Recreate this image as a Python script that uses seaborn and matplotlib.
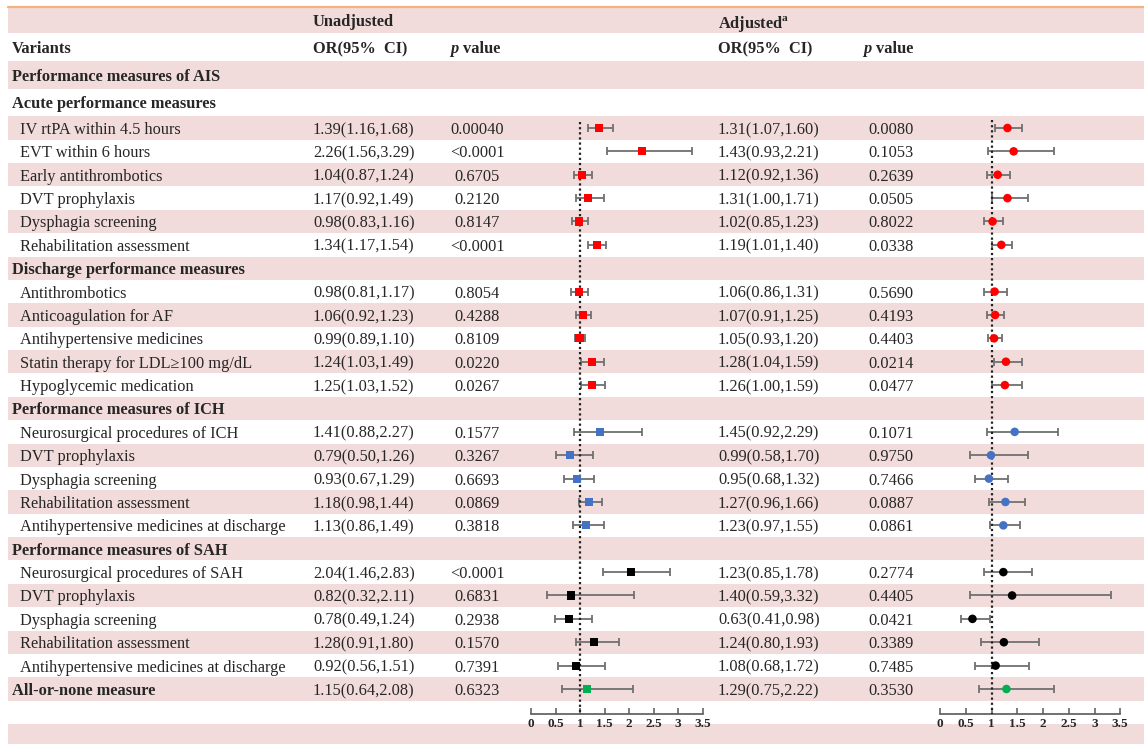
import numpy as np
import pandas as pd
import matplotlib
matplotlib.use("Agg")
import matplotlib.pyplot as plt
import seaborn as sns

# ---------------- data ----------------
row_labels = [
    "Performance measures of AIS",
    "Acute performance measures",
    "IV rtPA within 4.5 hours",
    "EVT within 6 hours",
    "Early antithrombotics",
    "DVT prophylaxis",
    "Dysphagia screening",
    "Rehabilitation assessment",
    "Discharge performance measures",
    "Antithrombotics",
    "Anticoagulation for AF",
    "Antihypertensive medicines",
    "Statin therapy for LDL\u2265100 mg/dL",
    "Hypoglycemic medication",
    "Performance measures of ICH",
    "Neurosurgical procedures of ICH",
    "DVT prophylaxis",
    "Dysphagia screening",
    "Rehabilitation assessment",
    "Antihypertensive medicines at discharge",
    "Performance measures of SAH",
    "Neurosurgical procedures of SAH",
    "DVT prophylaxis",
    "Dysphagia screening",
    "Rehabilitation assessment",
    "Antihypertensive medicines at discharge",
    "All-or-none measure",
]
row_bold = [True, True] + [False] * 6 + [True] + [False] * 5 + [True] + [False] * 5 \
    + [True] + [False] * 5 + [True]
row_group = [None, None] + ["AIS"] * 6 + [None] + ["AIS"] * 5 + [None] + ["ICH"] * 5 \
    + [None] + ["SAH"] * 5 + ["ALL"]

nan = np.nan
unadj_or = [nan, nan, 1.39, 2.26, 1.04, 1.17, 0.98, 1.34, nan, 0.98, 1.06, 0.99, 1.24, 1.25,
            nan, 1.41, 0.79, 0.93, 1.18, 1.13, nan, 2.04, 0.82, 0.78, 1.28, 0.92, 1.15]
unadj_lo = [nan, nan, 1.16, 1.56, 0.87, 0.92, 0.83, 1.17, nan, 0.81, 0.92, 0.89, 1.03, 1.03,
            nan, 0.88, 0.50, 0.67, 0.98, 0.86, nan, 1.46, 0.32, 0.49, 0.91, 0.56, 0.64]
unadj_hi = [nan, nan, 1.68, 3.29, 1.24, 1.49, 1.16, 1.54, nan, 1.17, 1.23, 1.10, 1.49, 1.52,
            nan, 2.27, 1.26, 1.29, 1.44, 1.49, nan, 2.83, 2.11, 1.24, 1.80, 1.51, 2.08]
unadj_p = ["", "", "0.00040", "<0.0001", "0.6705", "0.2120", "0.8147", "<0.0001", "",
           "0.8054", "0.4288", "0.8109", "0.0220", "0.0267", "", "0.1577", "0.3267",
           "0.6693", "0.0869", "0.3818", "", "<0.0001", "0.6831", "0.2938", "0.1570",
           "0.7391", "0.6323"]

adj_or = [nan, nan, 1.31, 1.43, 1.12, 1.31, 1.02, 1.19, nan, 1.06, 1.07, 1.05, 1.28, 1.26,
          nan, 1.45, 0.99, 0.95, 1.27, 1.23, nan, 1.23, 1.40, 0.63, 1.24, 1.08, 1.29]
adj_lo = [nan, nan, 1.07, 0.93, 0.92, 1.00, 0.85, 1.01, nan, 0.86, 0.91, 0.93, 1.04, 1.00,
          nan, 0.92, 0.58, 0.68, 0.96, 0.97, nan, 0.85, 0.59, 0.41, 0.80, 0.68, 0.75]
adj_hi = [nan, nan, 1.60, 2.21, 1.36, 1.71, 1.23, 1.40, nan, 1.31, 1.25, 1.20, 1.59, 1.59,
          nan, 2.29, 1.70, 1.32, 1.66, 1.55, nan, 1.78, 3.32, 0.98, 1.93, 1.72, 2.22]
adj_p = ["", "", "0.0080", "0.1053", "0.2639", "0.0505", "0.8022", "0.0338", "",
         "0.5690", "0.4193", "0.4403", "0.0214", "0.0477", "", "0.1071", "0.9750",
         "0.7466", "0.0887", "0.0861", "", "0.2774", "0.4405", "0.0421", "0.3389",
         "0.7485", "0.3530"]

x_ticks = [0, 0.5, 1, 1.5, 2, 2.5, 3, 3.5]
x_tick_labels = ["0", "0.5", "1", "1.5", "2", "2.5", "3", "3.5"]

group_colors = {"AIS": "#FF0000", "ICH": "#4472C4", "SAH": "#000000", "ALL": "#00B050"}

# ---------------- style ----------------
sns.set_theme(style="white")
plt.rcParams["font.family"] = ["Liberation Serif", "DejaVu Serif"]
plt.rcParams["mathtext.fontset"] = "custom"
plt.rcParams["mathtext.rm"] = "Liberation Serif"
plt.rcParams["mathtext.bf"] = "Liberation Serif:bold"

W, H = 1144, 744
fig = plt.figure(figsize=(W / 100, H / 100), dpi=100)

# Row layout (in pixel units): four taller header rows, then uniform table rows
top_edges = [8, 33, 61, 88.5, 116.3]
step = 23.375
edges = top_edges + [top_edges[-1] + step * k for k in range(1, 26)]
edges += [edges[-1] + 23.0, edges[-1] + 47.0]
centers = [(a + b) / 2 for a, b in zip(edges[:-1], edges[1:])]

bg = fig.add_axes([0, 0, 1, 1])
bg.set_xlim(0, W)
bg.set_ylim(H, 0)
bg.axis("off")

PINK = "#F2DCDB"
for i in range(len(edges) - 1):
    if i % 2 == 0:
        bg.fill_between([8, W], edges[i], edges[i + 1], color=PINK, lw=0, zorder=0)
bg.plot([8, W], [6.5, 6.5], color="#F4B183", lw=1.6, zorder=1)

FS = 11.8
X_LABEL_HEAD, X_LABEL_ITEM = 12, 20
X_OR_U, X_P_U = 313, 477
X_OR_A, X_P_A = 718, 868


def put(x, y, s, **kw):
    bg.text(x, y, s, fontsize=kw.pop("fontsize", FS), va="center_baseline", **kw)


# header rows
put(X_OR_U, centers[0], "Unadjusted", fontweight="bold")
put(X_OR_A, centers[0], r"Adjusted$^{\mathbf{a}}$", fontweight="bold")
put(X_LABEL_HEAD, centers[1], "Variants", fontweight="bold")
for x_or, x_p in [(X_OR_U, 450), (X_OR_A, 863)]:
    put(x_or, centers[1], "OR(95%  CI)", fontweight="bold")
    put(x_p, centers[1], "p", fontweight="bold", fontstyle="italic")
    put(x_p + 13, centers[1], "value", fontweight="bold")

# table body
ys = []
for k, lab in enumerate(row_labels):
    r = k + 2
    y = centers[r]
    ys.append(y)
    if row_bold[k]:
        put(X_LABEL_HEAD, y, lab, fontweight="bold")
    else:
        put(X_LABEL_ITEM, y, lab)
    if not np.isnan(unadj_or[k]):
        put(X_OR_U, y, f"{unadj_or[k]:.2f}({unadj_lo[k]:.2f},{unadj_hi[k]:.2f})")
        put(X_P_U, y, unadj_p[k], ha="center")
        put(X_OR_A, y, f"{adj_or[k]:.2f}({adj_lo[k]:.2f},{adj_hi[k]:.2f})")
        put(X_P_A, y, adj_p[k])

df = pd.DataFrame({
    "y": ys, "group": row_group,
    "u_or": unadj_or, "u_lo": unadj_lo, "u_hi": unadj_hi,
    "a_or": adj_or, "a_lo": adj_lo, "a_hi": adj_hi,
}).dropna(subset=["u_or"])

axis_y = edges[-3] + 13.0  # baseline of the OR scale


def forest(x0_px, px_per_unit, prefix, marker, size, line_top):
    ax = fig.add_axes([x0_px / W, 0, 3.5 * px_per_unit / W, 1])
    ax.set_facecolor("none")
    ax.set_xlim(0, 3.5)
    ax.set_ylim(H, 0)
    est, lo, hi = df[prefix + "_or"], df[prefix + "_lo"], df[prefix + "_hi"]
    ax.errorbar(est, df["y"], xerr=[est - lo, hi - est], fmt="none",
                ecolor="#707070", elinewidth=1.3, capsize=2.6, capthick=1.3,
                zorder=2, clip_on=False)
    ax.plot([1, 1], [line_top, axis_y], color="#222222", lw=1.6,
            linestyle=(0, (1, 1.3)), zorder=3, clip_on=False)
    sns.scatterplot(data=df, x=prefix + "_or", y="y", hue="group",
                    palette=group_colors, marker=marker, s=size, linewidth=0,
                    legend=False, ax=ax, zorder=4, clip_on=False)
    ax.set_xlim(0, 3.5)
    ax.set_ylim(H, 0)
    for side in ["top", "right", "left"]:
        ax.spines[side].set_visible(False)
    ax.spines["bottom"].set_position(("data", axis_y))
    ax.spines["bottom"].set_color("#595959")
    ax.spines["bottom"].set_linewidth(1.2)
    ax.set_xticks(x_ticks)
    ax.set_xticklabels(x_tick_labels, fontsize=9.5, fontweight="bold")
    ax.tick_params(axis="x", direction="in", length=4, width=1.1,
                   color="#595959", pad=3, bottom=True)
    ax.set_yticks([])
    ax.set_xlabel("")
    ax.set_ylabel("")
    return ax


forest(531, 49.0, "u", "s", 34, 122)
forest(940, 51.5, "a", "o", 38, 120)

fig.savefig("out.png", dpi=100)
